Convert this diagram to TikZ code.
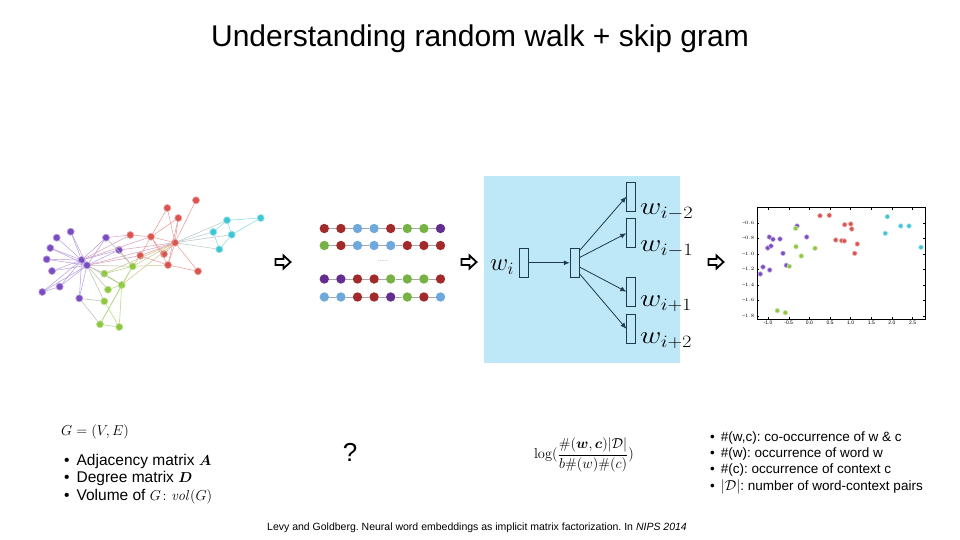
\documentclass[tikz,border=0pt]{standalone}
\usepackage{amsmath,bm}
\usepackage[no-math]{fontspec}
\setmainfont{Liberation Sans}
\usetikzlibrary{arrows.meta,calc}
\frenchspacing
\definecolor{gpur}{HTML}{7B4BC2}
\definecolor{gred}{HTML}{D9534F}
\definecolor{ggrn}{HTML}{8DC63F}
\definecolor{gcyn}{HTML}{3FC6D4}
\definecolor{sred}{HTML}{A32A2A}
\definecolor{sblu}{HTML}{6FA8DC}
\definecolor{sgrn}{HTML}{77B244}
\definecolor{spur}{HTML}{642D8F}
\definecolor{sgbg}{HTML}{BEE7F8}
\definecolor{vecc}{HTML}{1E3A4C}
\tikzset{
  gnode/.style={circle,inner sep=0pt,minimum size=7pt,fill=#1,draw=#1!55!white,line width=0.7pt},
  snode/.style={circle,inner sep=0pt,minimum size=9.4pt,fill=#1},
  pnode/.style={circle,inner sep=0pt,minimum size=4.6pt,fill=#1,draw=#1!45!white,line width=0.6pt},
  pedge/.style={draw=gpur!55!white,line width=0.5pt},
  redge/.style={draw=gred!60!white,line width=0.5pt},
  gedge/.style={draw=ggrn!70!white,line width=0.5pt},
  cedge/.style={draw=gcyn!65!white,line width=0.5pt},
  medge/.style={draw=#1,line width=0.5pt},
  vecbox/.style={draw=vecc,line width=0.9pt,minimum width=9pt,minimum height=29pt,inner sep=0pt},
  vecarrow/.style={draw=vecc,line width=0.8pt,-{Latex[length=6pt,width=5pt]}},
  harrow/.pic={\draw[line width=1.8pt,fill=white,line join=miter]
     (-7.5,-3) -- (0.5,-3) -- (0.5,-6.5) -- (7.5,0) -- (0.5,6.5) -- (0.5,3) -- (-7.5,3) -- cycle;},
  tick/.style={font=\fontsize{5}{6}\selectfont,inner sep=0.5pt},
  wlabel/.style={anchor=west,inner sep=0pt,font=\fontsize{24}{28}\selectfont}
}
\newcommand{\wide}[1]{\scalebox{1.18}[1]{#1}}
\begin{document}
\begin{tikzpicture}[x=1pt,y=-1pt]
\useasboundingbox[fill=white] (0,0) rectangle (960,540);

% title
\node[anchor=base,font=\fontsize{30}{36}\selectfont] (title) at (480,47) {Understanding random walk + skip gram};

% ---------------- graph ----------------
\foreach \n/\x/\y in {pa/70.7/231.7,pb/56.7/237.7,pc/50.3/248,pd/46.7/259.3,pe/52/271,pf/42.3/292,pg/59.7/286.7,ph/79.3/298.3,hA/81.7/260,hB/87/265.3,pi/106/237.7,pj/119/250}
  \node[gnode=gpur] (\n) at (\x,\y) {};
\foreach \n/\x/\y in {ra/130.3/235,rb/151/236.7,rc/167.3/208,rd/178.3/218,re/196/200.3,r1/175/242.7,rf/140.3/255.7,rg/164/254,rh/168/265,ri/198/271.3}
  \node[gnode=gred] (\n) at (\x,\y) {};
\foreach \n/\x/\y in {ga/132.7/266.3,gb/104.3/273.7,gc/121.7/285,gd/108/289.7,ge/104.3/301.3,gf/100/324.3,gg/119.3/327}
  \node[gnode=ggrn] (\n) at (\x,\y) {};
\foreach \n/\x/\y in {c6/227/220.3,c17/260.7/218,c11/213.3/232,c7/231.7/234.7,c5/219.3/249.3}
  \node[gnode=gcyn] (\n) at (\x,\y) {};

\foreach \a/\b in {hA/pa,hA/pb,hA/pc,hA/pd,hA/pe,hA/pf,hA/pg,hA/ph,hA/pi,hA/pj,hB/pa,hB/pc,hB/pd,hB/pe,hB/pf,hB/pg,hB/ph,hB/pi,hB/pj,hA/hB,pf/pg}
  \draw[pedge] (\a) -- (\b);
\foreach \a/\b in {pi/ra,hA/ra,hB/rf,hB/r1,pj/r1,hA/rb}
  \draw[medge=gpur!40!gred!55!white] (\a) -- (\b);
\foreach \a/\b in {ga/gb,ga/gc,gc/gb,gc/gd,gc/gf,gc/gg,ge/gg,gf/gg,ga/gf}
  \draw[gedge] (\a) -- (\b);
\foreach \a/\b in {hB/gb,hB/gc,hB/ge,hB/gd,ph/ge,ph/gf,pi/ga,pj/ga,hB/ga}
  \draw[medge=gpur!40!ggrn!60!white] (\a) -- (\b);
\foreach \a/\b in {ga/rf,ga/rh,gc/r1,ga/r1,gb/r1}
  \draw[medge=gred!40!ggrn!60!white] (\a) -- (\b);
\foreach \a/\b in {ra/rb,rb/rc,rb/rd,rb/r1,rb/rf,rb/rg,rb/rh,r1/rc,r1/rd,r1/re,r1/rf,r1/rg,r1/rh,r1/ri,rh/ri,rf/rh,rd/rh}
  \draw[redge] (\a) -- (\b);
\foreach \a/\b in {c6/c17,c6/c7,c17/c7,c6/c11,c11/c5,c7/c5}
  \draw[cedge] (\a) -- (\b);
\foreach \a/\b in {r1/c6,r1/c11,r1/c7,r1/c5}
  \draw[medge=gred!40!gcyn!55!white] (\a) -- (\b);

% ---------------- arrows ----------------
\pic at (283,262) {harrow};
\pic at (469,262) {harrow};
\pic at (716,262) {harrow};

% ---------------- walks ----------------
\foreach \r/\yy/\cols in {1/228.5/{sred,sred,sblu,sblu,sred,sgrn,sgrn,spur},
                         2/245.5/{sgrn,sred,sblu,sblu,sblu,sred,sred,sred},
                         3/279/{spur,spur,sred,sred,sgrn,sgrn,sgrn,sred},
                         4/297/{sblu,sblu,sred,sred,spur,sgrn,sred,sblu}}{
  \foreach \c [count=\k] in \cols
    \node[snode=\c] (s\r-\k) at ({324.3+16.6*(\k-1)},\yy) {};
  \foreach \k [evaluate=\k as \kn using int(\k+1)] in {1,...,7}
    \draw[gray!70,line width=0.9pt] (s\r-\k) -- (s\r-\kn);
}
\node[text=gray,font=\fontsize{6}{6}\selectfont] (dots) at (383,261) {......};

% ---------------- skip-gram ----------------
\node[fill=sgbg,minimum width=196pt,minimum height=187pt,anchor=north west,inner sep=0pt] (sgbox) at (484,176) {};
\node[vecbox] (vin) at (523.7,262.8) {};
\node[vecbox] (vhid) at (574.7,262.8) {};
\node[vecbox] (o1) at (631.3,196.7) {};
\node[vecbox] (o2) at (631.3,233.3) {};
\node[vecbox] (o3) at (631.3,291.7) {};
\node[vecbox] (o4) at (631.3,328.8) {};
\draw[vecarrow] (vin.east) -- (vhid.west);
\draw[vecarrow] (vhid.68) -- (o1.west);
\draw[vecarrow] (vhid.47) -- (o2.west);
\draw[vecarrow] (vhid.-41) -- (o3.west);
\draw[vecarrow] (vhid.-66) -- (o4.west);
\node[anchor=east,inner sep=0pt,font=\fontsize{24}{28}\selectfont] (lwi) at (514,267) {$w_i$};
\node[wlabel] (l1) at (640,212) {\wide{$w_{i-2}$}};
\node[wlabel] (l2) at (640,249) {\wide{$w_{i-1}$}};
\node[wlabel] (l3) at (640,304) {\wide{$w_{i+1}$}};
\node[wlabel] (l4) at (640,341) {\wide{$w_{i+2}$}};

% ---------------- scatter ----------------
\node[draw=black,line width=0.5pt,minimum width=168.3pt,minimum height=111.7pt,anchor=north west,inner sep=0pt] (frame) at (756.7,207.3) {};
\foreach \v/\yy in {-0.6/222.7,-0.8/238.2,-1.0/253.7,-1.2/269.2,-1.4/284.7,-1.6/300.2,-1.8/315.7}{
  \draw[line width=0.4pt] (756.7,\yy) -- (759.2,\yy);
  \draw[line width=0.4pt] (925,\yy) -- (922.5,\yy);
  \node[tick,anchor=east] at (755,\yy) {−\pgfmathprintnumber[fixed,precision=1,fixed zerofill]{\fpeval{-\v}}};
}
\foreach \u/\xx in {-1.0/768,-0.5/788.7,0.0/809.3,0.5/830,1.0/850.6,1.5/871.3,2.0/891.9,2.5/912.6}{
  \draw[line width=0.4pt] (\xx,319) -- (\xx,316.5);
  \draw[line width=0.4pt] (\xx,207.3) -- (\xx,209.8);
  \node[tick,anchor=north] at (\xx,320.5) {\u};
}
\foreach \x/\y [count=\i] in {820/215.7,829.3/215.3,844.7/224.7,850.7/224,851.7/229,835.7/240,841.7/240.7,844.3/241,857.3/244,854.7/253.3}
  \node[pnode=gred] (pr\i) at (\x,\y) {};
\foreach \x/\y [count=\i] in {887.3/216.7,900.7/226,909/226,885.3/233.3,921/247.3}
  \node[pnode=gcyn] (pc\i) at (\x,\y) {};
\foreach \x/\y [count=\i] in {797/226,769.3/237,773/239.3,780/239,806.7/237,767.7/248,771/246,783/253.3,786.3/265.3,763/267,769.7/270,760.3/274}
  \node[pnode=gpur] (pp\i) at (\x,\y) {};
\foreach \x/\y [count=\i] in {795.7/228.3,796/246.7,815/248.3,801.3/256,789.3/266.3,777.3/310.7,785.3/312.7}
  \node[pnode=ggrn] (pg\i) at (\x,\y) {};

% ---------------- bottom text ----------------
\node[anchor=base west,inner sep=0pt,font=\fontsize{14}{16}\selectfont] (gdef) at (61,435) {$G=(V,E)$};
\node[anchor=base west,inner sep=0pt,font=\fontsize{15.5}{18}\selectfont] (b1) at (64,465) {•\hspace{7pt}Adjacency matrix $\bm{A}$};
\node[anchor=base west,inner sep=0pt,font=\fontsize{15.5}{18}\selectfont] (b2) at (64,482.5) {•\hspace{7pt}Degree matrix $\bm{D}$};
\node[anchor=base west,inner sep=0pt,font=\fontsize{15.5}{18}\selectfont] (b3) at (64,500) {•\hspace{7pt}Volume of $G\colon \mathit{vol}(G)$};

\node[font=\fontsize{26}{30}\selectfont] (q) at (350,452) {?};

\node[font=\fontsize{15}{17}\selectfont] (formula) at (584,455) {$\log(\dfrac{\#(\bm{w},\bm{c})|\mathcal{D}|}{b\#(w)\#(c)})$};

\node[anchor=base west,inner sep=0pt,font=\fontsize{13.5}{16}\selectfont] (r1t) at (710,441) {•\hspace{6pt}\#(w,c): co-occurrence of w \& c};
\node[anchor=base west,inner sep=0pt,font=\fontsize{13.5}{16}\selectfont] (r2t) at (710,457) {•\hspace{6pt}\#(w): occurrence of word w};
\node[anchor=base west,inner sep=0pt,font=\fontsize{13.5}{16}\selectfont] (r3t) at (710,473) {•\hspace{6pt}\#(c): occurrence of context c};
\node[anchor=base west,inner sep=0pt,font=\fontsize{13.5}{16}\selectfont] (r4t) at (710,490) {•\hspace{6pt}$|\mathcal{D}|$: number of word-context pairs};

\node[anchor=base,font=\fontsize{10.5}{12}\selectfont] (foot) at (477,530) {Levy and Goldberg. Neural word embeddings as implicit matrix factorization. In \textit{NIPS 2014}};
\end{tikzpicture}
\end{document}
